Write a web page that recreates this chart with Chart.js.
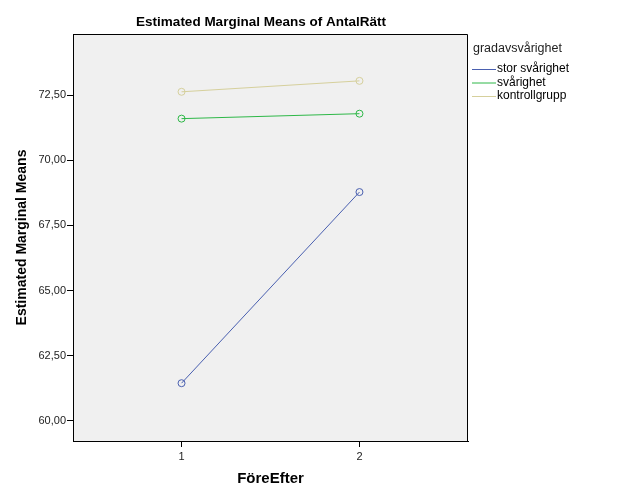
<!DOCTYPE html>
<html>
<head>
<meta charset="utf-8">
<title>Estimated Marginal Means of AntalRätt</title>
<script src="https://cdn.jsdelivr.net/npm/chart.js@4.4.1/dist/chart.umd.min.js"></script>
<style>
  body { margin: 0; background: #fff; }
  #wrap { width: 626px; height: 501px; }
</style>
</head>
<body>
<div id="wrap"><canvas id="emmChart" width="626" height="501"></canvas></div>
<script>
// Data
let timePoints = [1, 2];
let groupNames = ['stor svårighet', 'svårighet', 'kontrollgrupp'];
let storSvarighet = [61.44, 68.78];
let svarighet = [71.60, 71.79];
let kontrollgrupp = [72.63, 73.05];
let yTicks = [60, 62.5, 65, 67.5, 70, 72.5];
let xTicks = [1, 2];

let groupColors = ['#4a60b0', '#2eb848', '#d6d09c'];
let font = "Arial, 'Liberation Sans', sans-serif";

function toPoints(values) {
    return values.map((v, i) => ({ x: timePoints[i], y: v }));
}

function makeSet(i, values) {
    return {
        label: groupNames[i],
        data: toPoints(values),
        borderColor: groupColors[i],
        backgroundColor: 'rgba(0,0,0,0)',
        borderWidth: 1,
        pointRadius: 3.5,
        pointBorderWidth: 1,
        pointBackgroundColor: 'rgba(0,0,0,0)',
        pointBorderColor: groupColors[i],
        tension: 0
    };
}

// plot background, top/right frame, title and legend
let spssLook = {
    id: 'spssLook',
    beforeDraw(chart) {
        let ctx = chart.ctx, a = chart.chartArea;
        ctx.save();
        ctx.fillStyle = '#fff';
        ctx.fillRect(0, 0, chart.width, chart.height);
        ctx.fillStyle = '#f0f0f0';
        ctx.fillRect(a.left, a.top, a.right - a.left, a.bottom - a.top);
        ctx.restore();
    },
    afterDraw(chart) {
        let ctx = chart.ctx, a = chart.chartArea;
        ctx.save();
        ctx.strokeStyle = '#000';
        ctx.lineWidth = 1;
        ctx.beginPath();
        ctx.moveTo(a.left, a.top + 0.5);
        ctx.lineTo(a.right - 0.5, a.top + 0.5);
        ctx.lineTo(a.right - 0.5, a.bottom);
        ctx.stroke();

        ctx.fillStyle = '#000';
        ctx.textAlign = 'center';
        ctx.textBaseline = 'middle';
        ctx.font = 'bold 13.5px ' + font;
        ctx.fillText('Estimated Marginal Means of AntalRätt', 261, 22);

        // legend
        ctx.textAlign = 'left';
        ctx.font = '12.5px ' + font;
        ctx.fillStyle = '#222';
        ctx.fillText('gradavsvårighet', 473, 49);
        ctx.font = '12px ' + font;
        chart.data.datasets.forEach((ds, i) => {
            let y = 69 + i * 13.5;
            ctx.strokeStyle = ds.borderColor;
            ctx.beginPath();
            ctx.moveTo(472, y + 0.5);
            ctx.lineTo(496, y + 0.5);
            ctx.stroke();
            ctx.fillStyle = '#000';
            ctx.fillText(ds.label, 497, y);
        });
        ctx.restore();
    }
};

let ctx1 = document.querySelector('#emmChart').getContext('2d');

let emmChart = new Chart(ctx1, {
    type: 'line',
    data: {
        datasets: [
            makeSet(0, storSvarighet),
            makeSet(1, svarighet),
            makeSet(2, kontrollgrupp)
        ]
    },
    options: {
        responsive: false,
        animation: false,
        layout: { padding: { top: 34, right: 158, left: 0, bottom: 0 } },
        plugins: {
            legend: { display: false },
            tooltip: { enabled: false },
            title: { display: false }
        },
        scales: {
            x: {
                type: 'linear',
                min: 0.39,
                max: 2.61,
                afterBuildTicks: (scale) => { scale.ticks = xTicks.map(v => ({ value: v })); },
                afterFit: (scale) => { scale.height = 60; },
                grid: { drawOnChartArea: false, drawTicks: true, tickLength: 6, color: '#000' },
                border: { display: true, color: '#000' },
                ticks: {
                    color: '#222',
                    padding: 3,
                    font: { family: font, size: 11 },
                    callback: (v) => String(v)
                },
                title: {
                    display: true,
                    text: 'FöreEfter',
                    color: '#000',
                    font: { family: font, size: 15, weight: 'bold' },
                    padding: { top: 0, bottom: 13 }
                }
            },
            y: {
                min: 59.22,
                max: 74.85,
                afterBuildTicks: (scale) => { scale.ticks = yTicks.map(v => ({ value: v })); },
                afterFit: (scale) => { scale.width = 73; },
                grid: { drawOnChartArea: false, drawTicks: true, tickLength: 6, color: '#000' },
                border: { display: true, color: '#000' },
                ticks: {
                    color: '#222',
                    padding: 1,
                    font: { family: font, size: 11 },
                    callback: (v) => v.toFixed(2).replace('.', ',')
                },
                title: {
                    display: true,
                    text: 'Estimated Marginal Means',
                    color: '#000',
                    font: { family: font, size: 14, weight: 'bold' },
                    padding: { top: 14, bottom: 0 }
                }
            }
        }
    },
    plugins: [spssLook]
});
</script>
</body>
</html>
